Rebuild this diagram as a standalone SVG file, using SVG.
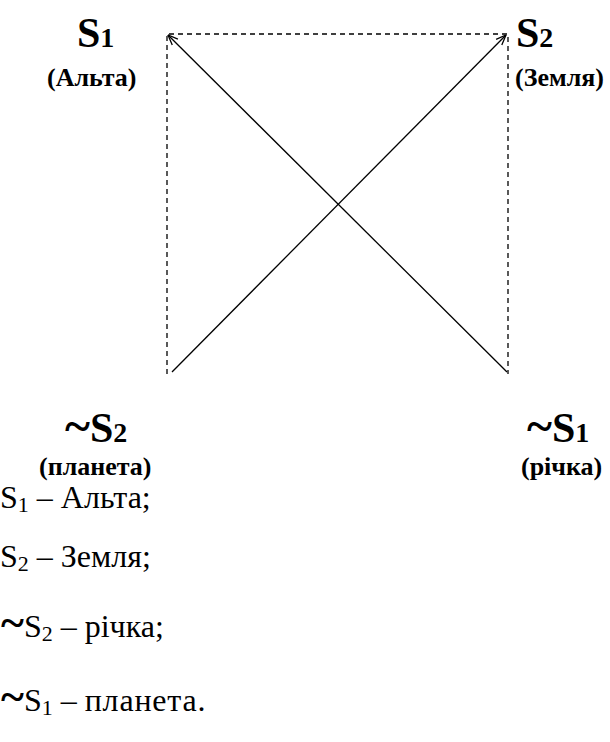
<svg xmlns="http://www.w3.org/2000/svg" width="610" height="742" viewBox="0 0 610 742">
<style>
.b{font-family:"Liberation Serif","Times New Roman",serif;font-weight:bold;fill:#000}
.r{font-family:"Liberation Serif","Times New Roman",serif;fill:#000}
.big{font-size:42px}
.sm{font-size:26px}
.lst{font-size:32px}
.t{font-weight:bold;font-size:44px}
.d{stroke:#000;stroke-width:1.3;stroke-dasharray:5,4;fill:none}
.l{stroke:#000;stroke-width:1.3;fill:none}
</style>
<defs>
<marker id="a" viewBox="0 0 10 10" refX="10" refY="5" markerWidth="10" markerHeight="10" markerUnits="userSpaceOnUse" orient="auto">
<path d="M0,1 L10,5 L0,9" fill="none" stroke="#000" stroke-width="1.3"/>
</marker>
</defs>
<g id="connectors">
<path class="d" d="M167,374 L167,34 L508,34 L508,374"/>
<line class="l" x1="172" y1="372" x2="506" y2="35" marker-end="url(#a)"/>
<line class="l" x1="507" y1="372" x2="168" y2="35" marker-end="url(#a)"/>
</g>
<g id="S1">
<text class="b big" x="77" y="47">S<tspan font-size="28">1</tspan></text>
<text class="b sm" x="47" y="86">(Альта)</text>
</g>
<g id="S2">
<text class="b big" x="516" y="47">S<tspan font-size="28">2</tspan></text>
<text class="b sm" x="515" y="86">(Земля)</text>
</g>
<g id="notS2">
<text class="b big" x="65" y="442"><tspan font-size="48">~</tspan>S<tspan font-size="28">2</tspan></text>
<text class="b sm" x="39" y="475">(планета)</text>
</g>
<g id="notS1">
<text class="b big" x="527" y="442"><tspan font-size="48">~</tspan>S<tspan font-size="28">1</tspan></text>
<text class="b sm" x="521" y="475">(річка)</text>
</g>
<g id="legend">
<text class="r lst" x="0" y="508">S<tspan font-size="22" dy="4">1</tspan><tspan dy="-4"> – Альта;</tspan></text>
<text class="r lst" x="0" y="567">S<tspan font-size="22" dy="4">2</tspan><tspan dy="-4"> – Земля;</tspan></text>
<text class="r lst" x="1" y="637"><tspan class="t">~</tspan>S<tspan font-size="22" dy="4">2</tspan><tspan dy="-4"> – річка;</tspan></text>
<text class="r lst" x="1" y="711"><tspan class="t">~</tspan>S<tspan font-size="22" dy="4">1</tspan><tspan dy="-4"> – <tspan letter-spacing="0.8">планета.</tspan></tspan></text>
</g>
</svg>
